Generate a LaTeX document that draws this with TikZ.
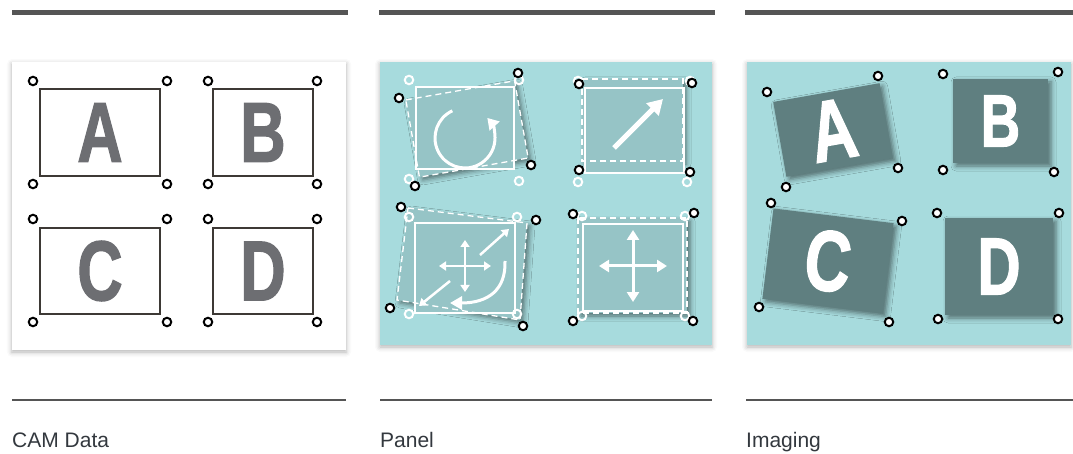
\documentclass[tikz,border=0pt]{standalone}
\usepackage{graphicx}
\usepackage{fontspec}
\setmainfont{Liberation Sans}
\newfontfamily\letfont{Liberation Sans Bold}[FakeBold=1.6]
\usetikzlibrary{shadows.blur,arrows.meta}
\definecolor{tealbg}{HTML}{A7DBDD}
\definecolor{innerc}{HTML}{96C4C6}
\definecolor{darkc}{HTML}{5F7F80}
\definecolor{barc}{HTML}{555555}
\definecolor{camc}{HTML}{3D3935}
\definecolor{letc}{HTML}{6D6E72}
\definecolor{lblc}{HTML}{33383E}
\newcommand\cond[1]{\scalebox{0.74}[1]{#1}}
\begin{document}
\begin{tikzpicture}[x=1pt,y=-1pt,
  bar/.style={line width=5pt, draw=barc},
  rulel/.style={line width=2.5pt, draw=barc},
  lbl/.style={anchor=base west, font=\fontsize{21}{24}\selectfont, text=lblc, inner sep=0},
  bc/.style={circle, draw=black, fill=white, line width=2pt, minimum size=8.5pt, inner sep=0},
  wc/.style={circle, draw=white, line width=2pt, minimum size=8.5pt, inner sep=0},
  camrect/.style={draw=camc, line width=2pt, inner sep=0, text=letc, font=\fontsize{85}{85}\selectfont\letfont},
  panelshadow/.style={blur shadow={shadow xshift=0pt, shadow yshift=-2pt, shadow blur radius=5pt, shadow opacity=30}},
  boxshadow/.style={blur shadow={shadow xshift=3pt, shadow yshift=-3pt, shadow blur radius=5pt, shadow opacity=50}},
  dashfill/.style={fill=innerc, boxshadow, inner sep=0},
  dashline/.style={draw=white, line width=1.3pt, dash pattern=on 6pt off 4pt},
  solidbox/.style={draw=white, line width=2pt},
  imgbox/.style={fill=darkc, boxshadow, inner sep=0, text=white, font=\fontsize{86}{86}\selectfont\letfont},
  icon/.style={draw=white, line width=2.5pt, -{Triangle[width=9pt,length=7pt]}},
]
\useasboundingbox (0,0) rectangle (1073,454);

% top bars
\draw[bar] (12,13) -- (348,13);
\draw[bar] (379,13) -- (715,13);
\draw[bar] (745,13) -- (1073,13);

% bottom rules and labels
\draw[rulel] (12,400) -- (346,400);
\draw[rulel] (380,400) -- (712,400);
\draw[rulel] (746,400) -- (1073,400);
\node[lbl] (l1) at (12,447) {CAM Data};
\node[lbl] (l2) at (380,447) {Panel};
\node[lbl] (l3) at (746,447) {Imaging};

% ---------- Panel 1: CAM Data
\path[fill=white, panelshadow] (12,62) rectangle (346,350);
\node[camrect, minimum width=120pt, minimum height=87pt] (ra) at (100,132.5) {\cond{A}};
\node[camrect, minimum width=100pt, minimum height=87pt] (rb) at (263,132.5) {\cond{B}};
\node[camrect, minimum width=120pt, minimum height=86pt] (rc) at (100,271) {\cond{C}};
\node[camrect, minimum width=100pt, minimum height=86pt] (rd) at (263,271) {\cond{D}};
\foreach \n/\x/\y in {a1/33/81,a2/167/81,a3/33/184,a4/167/184,
                      b1/208/81,b2/317/81,b3/208/184,b4/317/184,
                      c1/33/219,c2/167/219,c3/33/322,c4/167/322,
                      d1/208/219,d2/317/219,d3/208/322,d4/317/322}
  \node[bc] (p1\n) at (\x,\y) {};

% ---------- Panel 2: Panel
\path[fill=tealbg, panelshadow] (380,62) rectangle (712,345);

% top-left: rotation
\node[dashfill, rotate=10, minimum width=110pt, minimum height=78pt] (q1d) at (467,129) {};
\path[fill=innerc] (416,87) rectangle (514,169);
\draw[dashline] (q1d.north west) -- (q1d.north east) -- (q1d.south east) -- (q1d.south west) -- cycle;
\node[solidbox, minimum width=98pt, minimum height=82pt, inner sep=0] (q1s) at (465,128) {};
\coordinate (q1c) at (465,138);
\draw[draw=white, line width=3pt, -{Triangle[width=13pt,length=11pt]}]
  ([shift={(-115:30)}]q1c) arc[start angle=-115, end angle=-402, radius=30];
\foreach \n/\x/\y in {w1/409/80,w2/519/80,w3/409/179,w4/519/181}
  \node[wc] (q1\n) at (\x,\y) {};
\foreach \n/\x/\y in {k1/399/98,k2/518/73,k3/531/165,k4/415/186}
  \node[bc] (q1\n) at (\x,\y) {};

% top-right: translation
\path[dashfill] (582,79) rectangle (683,161);
\path[fill=innerc] (585,88) rectangle (684,173);
\draw[dashline] (582,79) rectangle (683,161);
\node[solidbox, minimum width=99pt, minimum height=85pt, inner sep=0] (q2s) at (634.5,130.5) {};
\coordinate (q2a) at (614,148);
\coordinate (q2b) at (663,99);
\draw[draw=white, line width=5pt, -{Triangle[width=17pt,length=15pt]}] (q2a) -- (q2b);
\foreach \n/\x/\y in {w1/578/81,w2/690/81,w3/578/182,w4/687/182}
  \node[wc] (q2\n) at (\x,\y) {};
\foreach \n/\x/\y in {k1/579/84,k2/692/83,k3/579/170,k4/690/172}
  \node[bc] (q2\n) at (\x,\y) {};

% bottom-left: combined
\coordinate (q3d1) at (408,208);
\coordinate (q3d2) at (527,223);
\coordinate (q3d3) at (520,320);
\coordinate (q3d4) at (397,300);
\path[fill=innerc, boxshadow] (q3d1) -- (q3d2) -- (q3d3) -- (q3d4) -- cycle;
\path[fill=innerc] (415,223) rectangle (515,313);
\draw[dashline] (q3d1) -- (q3d2) -- (q3d3) -- (q3d4) -- cycle;
\node[solidbox, minimum width=100pt, minimum height=90pt, inner sep=0] (q3s) at (465,268) {};
\coordinate (q3c) at (465,266);
\draw[icon] (q3c) -- ++(26,0);
\draw[icon] (q3c) -- ++(-26,0);
\draw[icon] (q3c) -- ++(0,26);
\draw[icon] (q3c) -- ++(0,-26);
\coordinate (q3e1) at (480,255);
\coordinate (q3e2) at (509,229);
\coordinate (q3f1) at (450,281);
\coordinate (q3f2) at (419,306);
\draw[icon] (q3e1) -- (q3e2);
\draw[icon] (q3f1) -- (q3f2);
\coordinate (q3g1) at (505,261);
\coordinate (q3g2) at (450,303);
\draw[draw=white, line width=3pt, -{Triangle[width=13pt,length=12pt]}]
  (q3g1) .. controls (506,290) and (488,303) .. (q3g2);
\foreach \n/\x/\y in {w1/409/217,w2/517/217,w3/409/314,w4/517/314}
  \node[wc] (q3\n) at (\x,\y) {};
\foreach \n/\x/\y in {k1/401/207,k2/536/220,k3/390/308,k4/523/326}
  \node[bc] (q3\n) at (\x,\y) {};

% bottom-right: scaling
\path[dashfill] (578,218) rectangle (687,313);
\path[fill=innerc] (583,224) rectangle (683,311);
\draw[dashline] (578,218) rectangle (687,313);
\node[solidbox, minimum width=100pt, minimum height=87pt, inner sep=0] (q4s) at (633,267.5) {};
\coordinate (q4c) at (633,266);
\draw[icon, line width=3pt, -{Triangle[width=12pt,length=10pt]}] (q4c) -- ++(34,0);
\draw[icon, line width=3pt, -{Triangle[width=12pt,length=10pt]}] (q4c) -- ++(-34,0);
\draw[icon, line width=3pt, -{Triangle[width=12pt,length=10pt]}] (q4c) -- ++(0,36);
\draw[icon, line width=3pt, -{Triangle[width=12pt,length=10pt]}] (q4c) -- ++(0,-36);
\foreach \n/\x/\y in {w1/582/216,w2/685/216,w3/582/316,w4/685/316}
  \node[wc] (q4\n) at (\x,\y) {};
\foreach \n/\x/\y in {k1/573/214,k2/694/213,k3/573/321,k4/693/321}
  \node[bc] (q4\n) at (\x,\y) {};

% ---------- Panel 3: Imaging
\path[fill=tealbg, panelshadow] (747,62) rectangle (1071,345);
\node[imgbox, rotate=10, minimum width=108pt, minimum height=76pt] (ia) at (833,130) {\cond{A}};
\node[imgbox, minimum width=95pt, minimum height=84pt, font=\fontsize{74}{74}\selectfont\letfont] (ib) at (1000.5,121) {\cond{B}};
\node[imgbox, rotate=-7, minimum width=121pt, minimum height=91pt] (ic) at (828,261) {\cond{C}};
\node[imgbox, minimum width=108pt, minimum height=97pt, font=\fontsize{81}{81}\selectfont\letfont] (id) at (999,266.5) {\cond{D}};
\foreach \n/\x/\y in {a1/767/92,a2/878/76,a3/898/168,a4/786/187,
                      b1/943/74,b2/1058/72,b3/943/170,b4/1054/172,
                      c1/771/203,c2/902/221,c3/759/307,c4/889/322,
                      d1/937/213,d2/1059/213,d3/938/319,d4/1058/319}
  \node[bc] (p3\n) at (\x,\y) {};
\end{tikzpicture}
\end{document}
